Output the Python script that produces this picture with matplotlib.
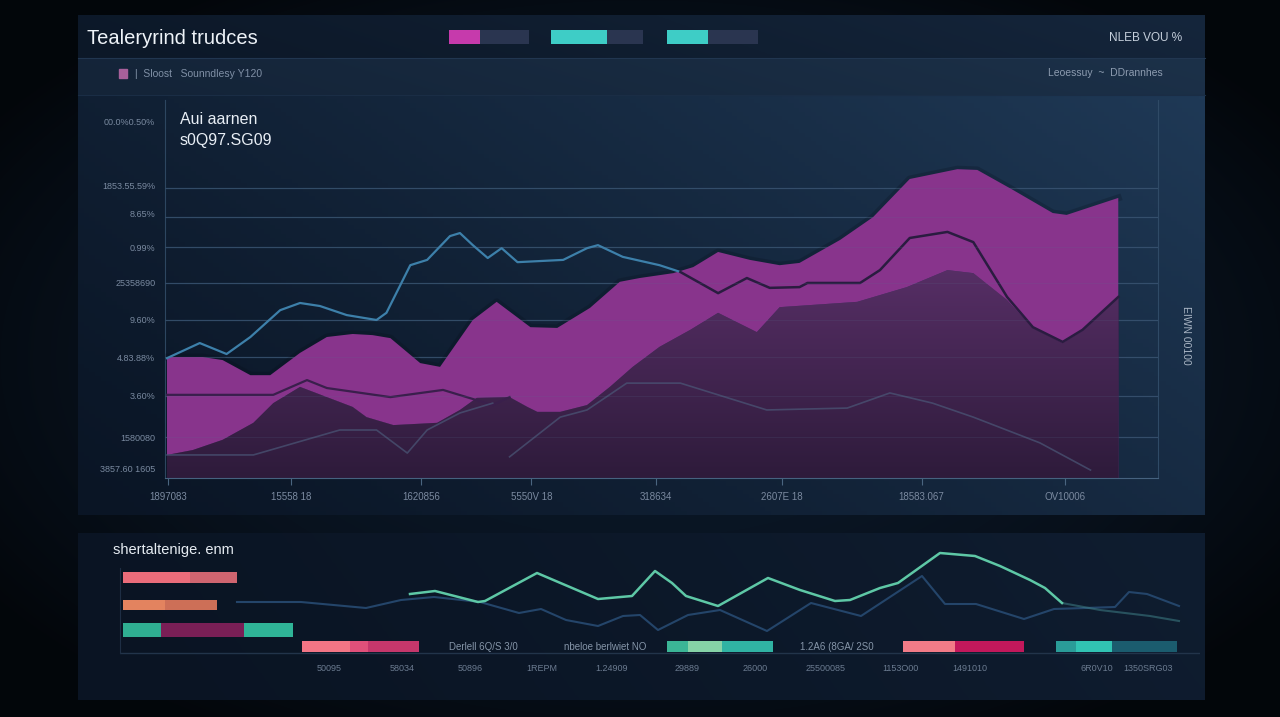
import numpy as np
import matplotlib.pyplot as plt
from matplotlib.patches import Rectangle
from matplotlib.colors import to_rgb

plt.rcParams['font.family'] = ['Liberation Sans', 'DejaVu Sans']

W, H = 1280, 717

# --- main chart data (x: timeline 0-100, y: index 0-100) ---
line_x = [0.2, 3.5, 6.2, 8.6, 11.6, 13.6, 15.6, 18.3, 21.3, 22.3, 24.7, 26.4, 28.7, 29.7,
          31.0, 32.5, 33.9, 35.5, 40.1, 42.5, 43.6, 46.1, 49.8, 51.9, 55.7, 58.6, 60.9,
          63.9, 64.7, 70.0, 72.0, 75.0, 78.8, 81.4, 84.8, 87.4, 90.4, 92.4, 96.0]
line_y = [31.7, 35.7, 32.8, 37.3, 44.4, 46.3, 45.5, 43.1, 41.8, 43.7, 56.3, 57.7, 64.0, 64.8,
          61.6, 58.2, 60.8, 57.1, 57.7, 60.8, 61.6, 58.5, 56.3, 54.5, 48.9, 52.9, 50.3,
          50.5, 51.6, 51.6, 55.0, 63.5, 65.1, 62.4, 47.9, 39.9, 36.0, 39.2, 47.9]

top_x = [0.2, 3.8, 5.8, 8.6, 10.6, 13.6, 16.3, 18.9, 20.9, 22.7, 25.7, 27.7, 31.0, 33.4,
         36.8, 39.5, 42.8, 45.8, 47.8, 51.2, 53.2, 55.7, 58.9, 61.9, 63.9, 68.0, 71.3,
         75.0, 79.8, 81.8, 85.4, 89.4, 90.8, 96.0]
top_y = [32.0, 32.0, 31.2, 27.2, 27.2, 33.1, 37.3, 38.1, 37.8, 37.0, 30.4, 29.4, 41.8, 46.6,
         39.9, 39.7, 45.0, 51.9, 52.9, 54.2, 55.8, 59.8, 57.7, 56.3, 56.9, 63.0, 69.0,
         79.1, 81.7, 81.5, 76.2, 70.1, 69.6, 74.1]

base_x = [0.2, 2.8, 5.8, 8.9, 10.9, 13.6, 16.3, 18.9, 20.3, 23.0, 27.4, 29.7, 31.4, 34.7,
          36.5, 37.5, 39.8, 42.5, 44.8, 47.1, 49.8, 52.9, 55.7, 59.6, 61.9, 69.7, 74.7,
          78.8, 81.4, 84.8, 87.4, 90.4, 92.4, 96.0]
base_y = [6.1, 7.4, 10.1, 14.6, 19.8, 24.1, 21.4, 18.8, 16.1, 14.0, 14.6, 18.0, 21.2, 21.4,
          18.8, 17.5, 17.5, 19.3, 24.1, 29.4, 34.7, 39.2, 43.7, 38.6, 45.2, 46.6, 50.5,
          55.0, 54.2, 47.1, 39.7, 35.7, 38.9, 47.9]

mid_x = [0.2, 10.9, 14.3, 16.3, 22.7, 28.0, 33.0, 34.7]
mid_y = [22.0, 22.0, 25.9, 23.8, 21.4, 23.3, 19.3, 21.4]

faint1_x = [0.2, 8.9, 17.6, 21.3, 24.4, 26.4, 29.7, 33.0]
faint1_y = [6.1, 6.1, 12.7, 12.7, 6.6, 12.7, 17.2, 19.8]
faint2_x = [34.7, 39.8, 42.5, 46.5, 51.9, 60.6, 68.7, 73.0, 77.3, 81.4, 88.1, 93.2]
faint2_y = [5.6, 16.1, 18.0, 25.1, 25.1, 18.0, 18.5, 22.5, 19.8, 16.1, 9.3, 2.1]

grid_y = [76.7, 69.0, 61.1, 51.6, 41.8, 32.0, 21.7, 10.8]
ytick_pos = [94.4, 77.5, 70.0, 61.1, 51.6, 41.8, 32.0, 21.7, 10.8, 2.6]
ytick_labels = ['00.0%0.50%', '1853.55.59%', '8.65%', '0.99%', '25358690',
                '9.60%', '4.83.88%', '3.60%', '1580080', '3857.60 1605']
xtick_pos = [0.3, 12.7, 25.8, 36.9, 49.4, 62.1, 76.2, 90.6]
xtick_labels = ['1897083', '15558 18', '1620856', '5550V 18', '318634',
                '2607E 18', '18583.067', 'OV10006']

# --- header progress bars ---
track_left = [0, 102, 218]
track_w = [80, 92, 91]
track_fill = [0.39, 0.61, 0.45]
track_colors = ['#c63aac', '#3ecdc6', '#3ecdc6']

# --- bottom panel data ---
teal_x = [290, 315, 358, 365, 417, 478, 512, 535, 552, 566, 598, 648, 680, 715, 730, 760,
          778, 820, 855, 880, 910, 925, 942]
teal_y = [66, 69, 58, 59, 87, 61, 64, 89, 77, 64, 54, 82, 70, 59, 60, 72,
          77, 107, 104, 94, 80, 72, 57]
tail_x = [942, 980, 1030, 1059]
tail_y = [57, 50, 44, 39]
dark_x = [117, 181, 246, 281, 314, 360, 399, 421, 446, 478, 503, 520, 538, 568, 600, 647,
          691, 741, 802, 825, 856, 904, 934, 995, 1009, 1027, 1059]
dark_y = [58, 58, 52, 60, 63, 58, 47, 51, 40, 34, 44, 45, 30, 45, 50, 29,
          57, 44, 84, 56, 56, 41, 51, 53, 68, 66, 54]

row_center = [82.5, 55, 30, 13.5]
row_height = [11, 10, 14, 11]
seg_row = [0, 0, 1, 1, 2, 2, 2, 3, 3, 3, 3, 3, 3, 3, 3, 3, 3, 3]
seg_left = [3, 70, 3, 45, 3, 41, 124, 182, 230, 248, 547, 568, 602, 783, 835, 936, 956, 992]
seg_width = [67, 47, 42, 52, 38, 83, 49, 48, 18, 51, 21, 34, 51, 52, 69, 20, 36, 65]
seg_color = ['#ea6c7a', '#cf6570', '#e3835f', '#cd6f57', '#2fae91', '#7a1f56', '#2fb497',
             '#f27585', '#e0507a', '#c5376b', '#3bb596', '#86d3a7', '#30b3a3',
             '#f27b87', '#c2185b', '#2a9c98', '#31c3b3', '#1b5c6e']
row_texts = ['Derlell 6Q/S 3/0', 'nbeloe berlwiet NO', '1.2A6 (8GA/ 2S0']
row_text_x = [363, 485, 717]
bottom_tick_pos = [209, 282, 350, 422, 492, 567, 635, 706, 780, 850, 977, 1028]
bottom_tick_labels = ['50095', '58034', '50896', '1REPM', '1.24909', '29889', '26000',
                      '25500085', '1153O00', '1491010', '6R0V10', '1350SRG03']

# --- figure & background ---
fig = plt.figure(figsize=(12.8, 7.17), dpi=100)
fig.patch.set_facecolor('#07101c')
bg = fig.add_axes([0, 0, 1, 1])
bg.set_xlim(0, W)
bg.set_ylim(H, 0)
bg.axis('off')

yy, xx = np.mgrid[0:H, 0:W]
r = np.hypot((xx - W / 2) / (W / 2), (yy - H / 2) / (H / 2))
shade = np.clip(1 - 0.5 * r ** 2, 0.25, 1)
img = np.array(to_rgb('#0b1828'))[None, None, :] * shade[..., None]
bg.imshow(img, extent=(0, W, H, 0), aspect='auto', zorder=0)


def gradient_box(x0, x1, y0, y1, c0, c1, wx=0.65):
    u = np.linspace(0, 1, 200)[None, :]
    v = np.linspace(0, 1, 100)[:, None]
    t = np.clip(wx * u + (1 - wx) * (1 - v), 0, 1) ** 1.2
    a, b = np.array(to_rgb(c0)), np.array(to_rgb(c1))
    g = a[None, None, :] * (1 - t[..., None]) + b[None, None, :] * t[..., None]
    bg.imshow(g, extent=(x0, x1, y1, y0), aspect='auto', zorder=1)


gradient_box(78, 1205, 15, 58, '#0c1828', '#15263c', wx=0.9)
gradient_box(78, 1205, 58, 95, '#142438', '#1c3149', wx=0.9)
gradient_box(78, 1205, 95, 515, '#0a1525', '#1f3956')
gradient_box(78, 1205, 533, 700, '#0a1423', '#0f1d30', wx=0.9)
bg.plot([78, 1205], [58, 58], color='#213650', lw=0.8, zorder=2)
bg.plot([78, 1205], [95, 95], color='#1a2d45', lw=0.8, zorder=2)
bg.add_patch(Rectangle((119, 69), 8, 9, color='#a8609a', zorder=3))

bg.text(87, 38, 'Tealeryrind trudces', color='#eef3f8', fontsize=14.5, va='center', zorder=4)
bg.text(1182, 38, 'NLEB VOU %', color='#c6d0dc', fontsize=8.5, ha='right', va='center', zorder=4)
bg.text(135, 74, '|  Sloost   Sounndlesy Y120', color='#8090a6', fontsize=7.5, va='center', zorder=4)
bg.text(1163, 73, 'Leoessuy  ~  DDrannhes', color='#8d9cb0', fontsize=7.5, ha='right',
        va='center', zorder=4)
bg.text(180, 120, 'Aui aarnen', color='#e8eef5', fontsize=11.5, va='center', zorder=4)
bg.text(180, 141, 's0Q97.SG09', color='#e8eef5', fontsize=11.5, va='center', zorder=4)
bg.text(1186, 335, 'EIWN 00100', color='#a9b5c4', fontsize=7.5, rotation=270,
        ha='center', va='center', zorder=4)
bg.text(113, 550, 'shertaltenige. enm', color='#e6ecf2', fontsize=10.5, va='center', zorder=4)

# --- header progress bars ---
hx = fig.add_axes([449 / W, 1 - 44 / H, 309 / W, 14 / H])
hx.set_xlim(0, 309)
hx.set_ylim(0, 1)
hx.axis('off')
hx.barh(0.5, track_w, left=track_left, height=1, color='#2a3550')
hx.barh(0.5, np.array(track_fill) * np.array(track_w), left=track_left, height=1,
        color=track_colors)

# --- main chart ---
ax = fig.add_axes([165 / W, 1 - 478 / H, (1158 - 165) / W, (478 - 100) / H])
ax.set_xlim(0, 100)
ax.set_ylim(0, 100)
ax.patch.set_alpha(0)

for gy in grid_y:
    ax.axhline(gy, color='#34506d', lw=0.9, alpha=0.8, zorder=1)

# dark purple base area with a vertical gradient clipped to its outline
base_poly = ax.fill_between(base_x, 0, base_y, color='#3e2450', lw=0, zorder=2)
vg = np.linspace(0, 1, 100)[:, None, None]
c_lo, c_hi = np.array(to_rgb('#2e1b3b')), np.array(to_rgb('#5a3069'))
grad_img = c_lo * (1 - vg) + c_hi * vg
grad_img = np.repeat(grad_img, 2, axis=1)
gi = ax.imshow(grad_img, extent=(0, 100, 0, 60), origin='lower', aspect='auto', zorder=2.05)
gi.set_clip_path(base_poly.get_paths()[0], transform=ax.transData)

ax.plot(top_x, top_y, color='#050a14', lw=5, alpha=0.2, zorder=2.8)
ax.fill(np.r_[top_x, base_x[::-1]], np.r_[top_y, base_y[::-1]], color='#88348c', lw=0, zorder=3)
ax.plot(mid_x, mid_y, color='#3a1f4c', lw=1.6, zorder=3.5)
ax.plot(faint1_x, faint1_y, color='#4b5878', lw=1.2, alpha=0.7, zorder=3.5)
ax.plot(faint2_x, faint2_y, color='#4b5878', lw=1.2, alpha=0.7, zorder=3.5)

k = next(i for i, v in enumerate(line_x) if v >= 51.9)
ax.plot(line_x[:k + 1], line_y[:k + 1], color='#3d80aa', lw=1.6, zorder=4)
ax.plot(line_x[k:], line_y[k:], color='#2a1c40', lw=1.8, zorder=4)

for gy in grid_y:
    ax.axhline(gy, color='#5a7090', lw=0.8, alpha=0.15, zorder=5)

ax.spines['top'].set_visible(False)
ax.spines['left'].set_color('#2d4660')
ax.spines['right'].set_color('#2f4a66')
ax.spines['bottom'].set_color('#46627f')
ax.set_yticks(ytick_pos, ytick_labels)
ax.set_xticks(xtick_pos, xtick_labels)
ax.tick_params(axis='y', length=0, pad=7, labelsize=6.5, labelcolor='#7a8aa0')
ax.tick_params(axis='x', length=5, color='#4a6580', pad=5, labelsize=7, labelcolor='#7b8aa0')

# --- bottom panel ---
bx = fig.add_axes([120 / W, 1 - 660 / H, 1080 / W, 120 / H])
bx.set_xlim(0, 1080)
bx.set_ylim(0, 120)
bx.patch.set_alpha(0)

bx.plot(dark_x, dark_y, color='#24456a', lw=1.5, zorder=2)
bx.plot(tail_x, tail_y, color='#3e7f86', lw=1.5, alpha=0.55, zorder=2)
bx.plot(teal_x, teal_y, color='#5ec8a6', lw=1.8, zorder=3)

for row, left, width, c in zip(seg_row, seg_left, seg_width, seg_color):
    bx.barh(row_center[row], width, left=left, height=row_height[row], color=c, zorder=4)
for t, tx in zip(row_texts, row_text_x):
    bx.text(tx, row_center[3], t, color='#8595a8', fontsize=7, ha='center', va='center')

bx.axhline(7, color='#22344a', lw=1, zorder=1)
for s in ['top', 'right', 'bottom']:
    bx.spines[s].set_visible(False)
bx.spines['left'].set_color('#1e2e44')
bx.spines['left'].set_bounds(7, 92)
bx.set_yticks([])
bx.set_xticks(bottom_tick_pos, bottom_tick_labels)
bx.tick_params(axis='x', length=0, pad=3, labelsize=6.5, labelcolor='#6b7b90')

fig.savefig('out.png', dpi=100)
